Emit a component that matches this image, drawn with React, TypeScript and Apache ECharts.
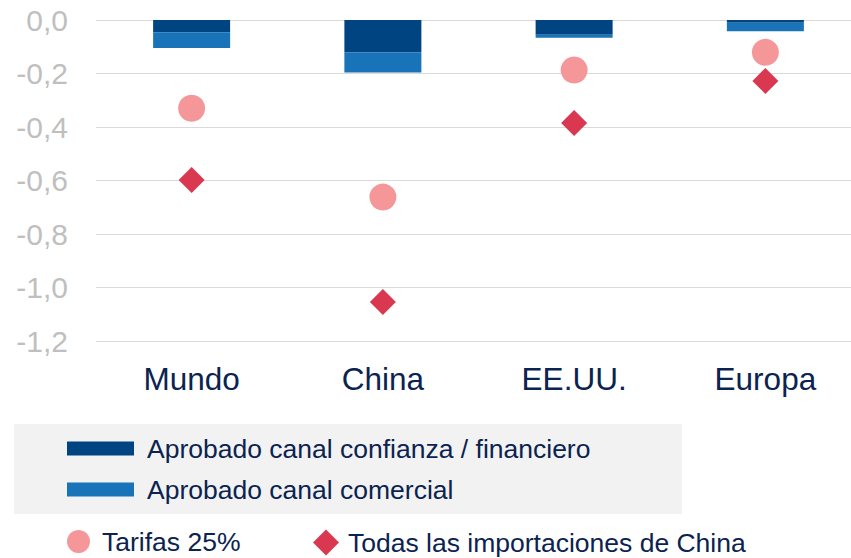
import React, { useEffect, useRef } from "react";
import * as echarts from "echarts";

const categories = ["Mundo", "China", "EE.UU.", "Europa"];
const confianza = [-0.046, -0.121, -0.055, -0.010];
const comercial = [-0.059, -0.075, -0.011, -0.032];
const tarifas = [-0.330, -0.662, -0.187, -0.121];
const todas = [-0.598, -1.054, -0.385, -0.228];
const yTicks = { min: -1.2, max: 0, interval: 0.2 };

const NAVY = "#004481";
const BLUE = "#1973b8";
const PINK = "#f59799";
const RED = "#da3851";
const TEXT = "#0a2350";
const FONT = "Liberation Sans, Arial, sans-serif";

export default function App() {
  const ref = useRef<HTMLDivElement>(null);
  useEffect(() => {
    const chart = echarts.init(ref.current!, null, { renderer: "svg" });
    const legText = (pad: number) => ({
      color: TEXT,
      fontSize: 26.5,
      lineHeight: 26,
      fontFamily: FONT,
      padding: [0, 0, 0, pad],
    });
    chart.setOption({
      animation: false,
      textStyle: { fontFamily: FONT },
      grid: { left: 96, right: 0, top: 20, height: 321, containLabel: false },
      xAxis: {
        type: "category",
        data: categories,
        position: "bottom",
        axisLine: { show: false },
        axisTick: { show: false },
        axisLabel: { color: TEXT, fontSize: 31.5, margin: 22, fontFamily: FONT },
      },
      yAxis: {
        type: "value",
        min: yTicks.min,
        max: yTicks.max,
        interval: yTicks.interval,
        axisLine: { show: false },
        axisTick: { show: false },
        splitLine: { lineStyle: { color: "#d9d9d9", width: 1 } },
        axisLabel: {
          color: "#bfbfbf",
          fontSize: 30,
          margin: 28,
          fontFamily: FONT,
          formatter: (v: number) => v.toFixed(1).replace(".", ","),
        },
      },
      legend: [
        {
          data: ["Aprobado canal confianza / financiero", "Aprobado canal comercial"],
          orient: "vertical",
          left: 67,
          top: 435,
          padding: 0,
          itemWidth: 67,
          itemHeight: 14,
          itemGap: 14,
          icon: "rect",
          textStyle: legText(8),
        },
        {
          data: [{ name: "Tarifas 25%", icon: "circle" }],
          left: 67,
          top: 528,
          padding: 0,
          itemWidth: 23,
          itemHeight: 23,
          textStyle: legText(7),
        },
        {
          data: [{ name: "Todas las importaciones de China", icon: "diamond" }],
          left: 313,
          top: 529,
          padding: 0,
          itemWidth: 26,
          itemHeight: 26,
          textStyle: legText(4),
        },
      ],
      graphic: [
        {
          type: "rect",
          left: 14,
          top: 424,
          z: -10,
          silent: true,
          shape: { width: 668, height: 90 },
          style: { fill: "#f2f2f2" },
        },
      ],
      series: [
        {
          name: "Aprobado canal confianza / financiero",
          type: "bar",
          stack: "a",
          data: confianza,
          barWidth: 77,
          itemStyle: { color: NAVY },
        },
        {
          name: "Aprobado canal comercial",
          type: "bar",
          stack: "a",
          data: comercial,
          barWidth: 77,
          itemStyle: { color: BLUE },
        },
        {
          name: "Tarifas 25%",
          type: "scatter",
          data: tarifas,
          symbol: "circle",
          symbolSize: 27,
          itemStyle: { color: PINK, opacity: 1 },
        },
        {
          name: "Todas las importaciones de China",
          type: "scatter",
          data: todas,
          symbol: "diamond",
          symbolSize: 26,
          itemStyle: { color: RED, opacity: 1 },
        },
      ],
    });
    return () => chart.dispose();
  }, []);
  return (
    <div
      style={{ position: "absolute", left: 0, top: 0, width: 851, height: 558, overflow: "hidden", background: "#fff" }}
    >
      <div ref={ref} style={{ width: 861, height: 558 }} />
    </div>
  );
}
